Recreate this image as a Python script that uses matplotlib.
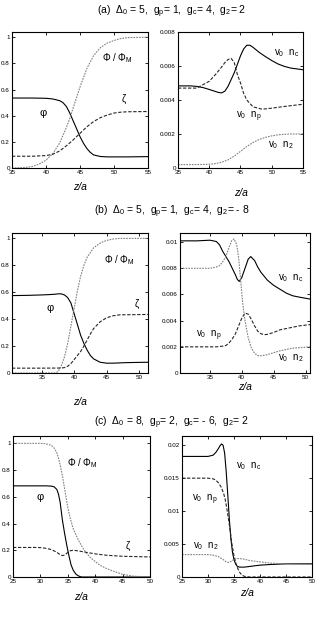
import matplotlib
matplotlib.use('Agg')
import matplotlib.pyplot as plt
from matplotlib.ticker import FuncFormatter

plt.rcParams['font.family'] = ['Liberation Sans', 'DejaVu Sans']
plt.rcParams['mathtext.fontset'] = 'custom'
plt.rcParams['mathtext.rm'] = 'Liberation Sans'
plt.rcParams['mathtext.it'] = 'Liberation Sans:italic'

# ---------- panel (a) ----------
a_phi_x = [35, 38, 40, 41, 42, 42.5, 43, 43.5, 44, 44.5, 45, 45.5, 46, 46.5, 47, 48, 49, 50, 52, 55]
a_phi_y = [0.535, 0.535, 0.533, 0.528, 0.515, 0.50, 0.47, 0.42, 0.36, 0.30, 0.24, 0.19, 0.15, 0.12, 0.10, 0.088, 0.085, 0.085, 0.085, 0.087]
a_Phi_x = [35, 37, 38, 39, 40, 41, 42, 43, 43.5, 44, 44.5, 45, 46, 47, 48, 49, 50, 51, 52, 55]
a_Phi_y = [0, 0.004, 0.012, 0.03, 0.06, 0.11, 0.19, 0.31, 0.38, 0.46, 0.54, 0.62, 0.76, 0.86, 0.92, 0.955, 0.975, 0.99, 0.997, 1.0]
a_zeta_x = [35, 38, 40, 41, 42, 43, 44, 45, 46, 47, 48, 49, 50, 51, 52, 55]
a_zeta_y = [0.09, 0.09, 0.095, 0.105, 0.13, 0.17, 0.215, 0.265, 0.315, 0.355, 0.385, 0.405, 0.42, 0.427, 0.43, 0.432]

a_nc_x = [35, 37, 38, 39, 40, 41, 41.5, 42, 42.5, 43, 43.5, 44, 44.5, 45, 45.5, 46, 46.5, 47, 48, 49, 50, 51, 52, 53, 55]
a_nc_y = [0.00483, 0.00483, 0.0048, 0.00473, 0.00462, 0.0045, 0.00444, 0.00442, 0.00452, 0.0048, 0.0052, 0.0056, 0.0061, 0.0066, 0.0070, 0.00722, 0.00722, 0.0071, 0.0068, 0.00655, 0.00632, 0.00612, 0.00598, 0.00588, 0.00578]
a_np_x = [35, 37, 38, 39, 40, 41, 42, 42.5, 43, 43.5, 44, 44.5, 45, 45.5, 46, 47, 48, 48.5, 49, 50, 52, 55]
a_np_y = [0.0047, 0.0047, 0.0047, 0.0049, 0.0051, 0.0055, 0.00595, 0.0062, 0.00638, 0.00645, 0.0062, 0.0055, 0.0050, 0.0044, 0.0040, 0.0036, 0.0035, 0.00346, 0.00348, 0.00352, 0.00362, 0.00375]
a_n2_x = [35, 38, 40, 41, 42, 43, 44, 45, 46, 47, 48, 49, 50, 51, 52, 53, 55]
a_n2_y = [0.0002, 0.0002, 0.00022, 0.00026, 0.00034, 0.00048, 0.0007, 0.00098, 0.00126, 0.0015, 0.00168, 0.0018, 0.00189, 0.00195, 0.00198, 0.002, 0.002]

# ---------- panel (b) ----------
b_phi_x = [30.4, 33, 35, 36, 37, 37.5, 38, 38.5, 39, 39.5, 40, 40.5, 41, 41.5, 42, 42.5, 43, 44, 45, 46, 48, 51.4]
b_phi_y = [0.575, 0.577, 0.58, 0.582, 0.585, 0.588, 0.588, 0.58, 0.56, 0.52, 0.44, 0.36, 0.28, 0.22, 0.17, 0.13, 0.105, 0.08, 0.073, 0.073, 0.077, 0.08]
b_Phi_x = [30.4, 37, 37.5, 38, 38.5, 39, 39.5, 40, 40.5, 41, 41.5, 42, 43, 44, 45, 46, 47, 48, 51.4]
b_Phi_y = [0, 0, 0.01, 0.05, 0.12, 0.22, 0.35, 0.48, 0.61, 0.72, 0.8, 0.86, 0.93, 0.965, 0.985, 0.995, 1.0, 1.0, 1.0]
b_zeta_x = [30.4, 35, 38, 38.5, 39, 39.5, 40, 40.5, 41, 41.5, 42, 42.5, 43, 44, 45, 46, 47, 51.4]
b_zeta_y = [0.036, 0.036, 0.037, 0.04, 0.05, 0.07, 0.1, 0.13, 0.16, 0.2, 0.245, 0.29, 0.33, 0.38, 0.41, 0.425, 0.432, 0.435]

b_nc_x = [30.3, 33, 35, 36, 36.5, 37, 37.5, 38, 38.5, 39, 39.3, 39.6, 40, 40.5, 41, 41.4, 42, 42.5, 43, 44, 45, 46, 47, 48, 49, 50.7]
b_nc_y = [0.0101, 0.0101, 0.01015, 0.01005, 0.0098, 0.0093, 0.0089, 0.0085, 0.0080, 0.0075, 0.00715, 0.0070, 0.0073, 0.0080, 0.0087, 0.0089, 0.0086, 0.0081, 0.0077, 0.0071, 0.0067, 0.0064, 0.0061, 0.0059, 0.0058, 0.00565]
b_np_x = [30.3, 36, 37, 37.5, 38, 38.5, 39, 39.5, 40, 40.5, 41, 41.5, 42, 42.5, 43, 43.5, 44, 45, 46, 47, 48, 49, 50.7]
b_np_y = [0.002, 0.002, 0.00205, 0.0021, 0.0023, 0.0026, 0.003, 0.0036, 0.0042, 0.00458, 0.0045, 0.0041, 0.0036, 0.0032, 0.003, 0.00293, 0.00295, 0.0031, 0.0033, 0.0034, 0.0035, 0.0036, 0.0037]
b_n2_x = [30.3, 35, 36, 36.5, 37, 37.5, 38, 38.4, 38.8, 39.2, 39.5, 39.8, 40.1, 40.5, 41, 41.5, 42, 42.5, 43, 44, 45, 46, 47, 48, 50.7]
b_n2_y = [0.008, 0.008, 0.0081, 0.0082, 0.0085, 0.0089, 0.0096, 0.0101, 0.01025, 0.0098, 0.0088, 0.0072, 0.0055, 0.0040, 0.0027, 0.0019, 0.0015, 0.00133, 0.00132, 0.0014, 0.00155, 0.0017, 0.0018, 0.0019, 0.002]

# ---------- panel (c) ----------
c_phi_x = [25, 31, 32, 32.5, 33, 33.3, 33.6, 34, 34.4, 34.8, 35.2, 35.6, 36, 36.5, 37, 37.5, 50]
c_phi_y = [0.682, 0.682, 0.68, 0.675, 0.655, 0.62, 0.56, 0.43, 0.33, 0.24, 0.16, 0.09, 0.05, 0.02, 0.007, 0.0, 0.0]
c_Phi_x = [25, 30, 31, 32, 32.5, 33, 33.5, 34, 34.5, 35, 35.5, 36, 37, 38, 39, 40, 41, 42, 43, 45, 47, 50]
c_Phi_y = [1.0, 1.0, 0.997, 0.985, 0.965, 0.93, 0.86, 0.76, 0.64, 0.52, 0.43, 0.36, 0.27, 0.2, 0.15, 0.115, 0.085, 0.065, 0.048, 0.02, 0.006, 0.0]
c_zeta_x = [25, 29, 30, 31, 32, 33, 33.5, 34, 34.5, 35, 35.5, 36, 37, 38, 40, 42, 45, 50]
c_zeta_y = [0.221, 0.221, 0.22, 0.215, 0.205, 0.185, 0.17, 0.16, 0.165, 0.185, 0.197, 0.2, 0.195, 0.187, 0.173, 0.163, 0.155, 0.15]

c_nc_x = [25, 30, 31, 31.5, 32, 32.3, 32.6, 32.9, 33.2, 33.5, 33.8, 34.1, 34.4, 34.7, 35, 35.3, 35.6, 36, 37, 38, 40, 42, 45, 50]
c_nc_y = [0.0183, 0.0183, 0.0185, 0.0189, 0.0195, 0.0199, 0.0202, 0.02, 0.0188, 0.016, 0.0125, 0.0088, 0.0058, 0.0038, 0.0026, 0.002, 0.00165, 0.0015, 0.0015, 0.0016, 0.0018, 0.0019, 0.002, 0.002]
c_np_x = [25, 30, 31, 31.5, 32, 32.5, 33, 33.3, 33.6, 34, 34.3, 34.6, 35, 35.5, 36, 36.5, 37, 38, 50]
c_np_y = [0.015, 0.015, 0.0149, 0.0147, 0.0143, 0.0137, 0.0127, 0.0118, 0.0105, 0.0085, 0.0068, 0.005, 0.0032, 0.0017, 0.0008, 0.0003, 0.0001, 0.0, 0.0]
c_n2_x = [25, 30, 31, 32, 33, 33.5, 34, 34.5, 35, 35.5, 36, 37, 38, 40, 42, 45, 50]
c_n2_y = [0.0034, 0.0034, 0.0033, 0.0031, 0.0026, 0.0023, 0.0022, 0.0024, 0.0027, 0.0028, 0.0028, 0.0027, 0.0025, 0.0023, 0.0021, 0.002, 0.0019]

titles = [r'(a)  $\Delta_0$ = 5,  g$_{\rm p}$= 1,  g$_{\rm c}$= 4,  g$_2$= 2',
          r'(b)  $\Delta_0$ = 5,  g$_{\rm p}$= 1,  g$_{\rm c}$= 4,  g$_2$= - 8',
          r'(c)  $\Delta_0$ = 8,  g$_{\rm p}$= 2,  g$_{\rm c}$= - 6,  g$_2$= 2']
lab_nc = r'v$_0$  n$_{\rm c}$'
lab_np = r'v$_0$  n$_{\rm p}$'
lab_n2 = r'v$_0$  n$_2$'
lab_Phi = r'Φ / Φ$_{\rm M}$'

W, H = 317, 629
fig = plt.figure(figsize=(W / 100, H / 100), dpi=100)


def box(x0, x1, y0, y1):
    # pixel box -> figure fraction
    return [x0 / W, 1 - y1 / H, (x1 - x0) / W, (y1 - y0) / H]


def style(ax, xlim, ylim, xticks, yticks, labcoord):
    ax.set_xlim(xlim)
    ax.set_ylim(ylim)
    ax.set_xticks(xticks)
    ax.set_yticks(yticks)
    ax.xaxis.set_major_formatter(FuncFormatter(lambda v, p: '%g' % v))
    ax.yaxis.set_major_formatter(FuncFormatter(lambda v, p: '%g' % v))
    ax.tick_params(direction='in', top=True, right=True, length=2, width=0.6,
                   labelsize=4.5, pad=1.5)
    for s in ax.spines.values():
        s.set_linewidth(0.8)
    ax.set_xlabel('z/a', fontsize=7.5, style='italic')
    ax.xaxis.set_label_coords(0.5, labcoord)


solid = dict(color='black', lw=0.8)
dashed = dict(color='0.15', lw=0.8, ls=(0, (3, 1.5)))
dotted = dict(color='0.5', lw=0.8, ls=(0, (1.5, 1)))
tfs = 7

# (a)
ax = fig.add_axes(box(12, 148, 32, 168))
ax.plot(a_phi_x, a_phi_y, **solid)
ax.plot(a_Phi_x, a_Phi_y, **dotted)
ax.plot(a_zeta_x, a_zeta_y, **dashed)
style(ax, (35, 55), (0, 1.04), [35, 40, 45, 50, 55], [0, 0.2, 0.4, 0.6, 0.8, 1], -0.10)
ax.text(50.5, 0.84, lab_Phi, fontsize=tfs, ha='center', va='center')
ax.text(51.4, 0.53, 'ζ', fontsize=tfs, ha='center', va='center')
ax.text(39.6, 0.42, 'φ', fontsize=tfs + 1, ha='center', va='center')

ax = fig.add_axes(box(178, 303, 32, 168))
ax.plot(a_nc_x, a_nc_y, **solid)
ax.plot(a_np_x, a_np_y, **dashed)
ax.plot(a_n2_x, a_n2_y, **dotted)
style(ax, (35, 55), (0, 0.008), [35, 40, 45, 50, 55], [0, 0.002, 0.004, 0.006, 0.008], -0.145)
ax.text(52.4, 0.00676, lab_nc, fontsize=tfs, ha='center', va='center')
ax.text(46.4, 0.0030, lab_np, fontsize=tfs, ha='center', va='center')
ax.text(51.4, 0.00134, lab_n2, fontsize=tfs, ha='center', va='center')

# (b)
ax = fig.add_axes(box(12, 148, 233, 373))
ax.plot(b_phi_x, b_phi_y, **solid)
ax.plot(b_Phi_x, b_Phi_y, **dotted)
ax.plot(b_zeta_x, b_zeta_y, **dashed)
style(ax, (30.4, 51.4), (0, 1.04), [35, 40, 45, 50], [0, 0.2, 0.4, 0.6, 0.8, 1], -0.17)
ax.text(47.0, 0.84, lab_Phi, fontsize=tfs, ha='center', va='center')
ax.text(49.7, 0.51, 'ζ', fontsize=tfs, ha='center', va='center')
ax.text(36.3, 0.48, 'φ', fontsize=tfs + 1, ha='center', va='center')

ax = fig.add_axes(box(180, 310, 233, 373))
ax.plot(b_nc_x, b_nc_y, **solid)
ax.plot(b_np_x, b_np_y, **dashed)
ax.plot(b_n2_x, b_n2_y, **dotted)
style(ax, (30.3, 50.7), (0, 0.0107), [35, 40, 45, 50], [0, 0.002, 0.004, 0.006, 0.008, 0.01], -0.064)
ax.text(47.7, 0.00725, lab_nc, fontsize=tfs, ha='center', va='center')
ax.text(34.8, 0.00285, lab_np, fontsize=tfs, ha='center', va='center')
ax.text(47.7, 0.00115, lab_n2, fontsize=tfs, ha='center', va='center')

# (c)
ax = fig.add_axes(box(13, 150, 436, 577))
ax.plot(c_phi_x, c_phi_y, **solid)
ax.plot(c_Phi_x, c_Phi_y, **dotted)
ax.plot(c_zeta_x, c_zeta_y, **dashed)
style(ax, (25, 50), (0, 1.055), [25, 30, 35, 40, 45, 50], [0, 0.2, 0.4, 0.6, 0.8, 1], -0.106)
ax.text(37.6, 0.85, lab_Phi, fontsize=tfs, ha='center', va='center')
ax.text(29.9, 0.6, 'φ', fontsize=tfs + 1, ha='center', va='center')
ax.text(46.0, 0.23, 'ζ', fontsize=tfs, ha='center', va='center')

ax = fig.add_axes(box(182, 312, 436, 577))
ax.plot(c_nc_x, c_nc_y, **solid)
ax.plot(c_np_x, c_np_y, **dashed)
ax.plot(c_n2_x, c_n2_y, **dotted)
style(ax, (25, 50), (0, 0.0214), [25, 30, 35, 40, 45, 50], [0, 0.005, 0.01, 0.015, 0.02], -0.078)
ax.text(37.9, 0.0168, lab_nc, fontsize=tfs, ha='center', va='center')
ax.text(29.3, 0.0117, lab_np, fontsize=tfs, ha='center', va='center')
ax.text(29.6, 0.0047, lab_n2, fontsize=tfs, ha='center', va='center')

for t, yp in zip(titles, [12, 212, 423]):
    fig.text(172 / W, 1 - yp / H, t, fontsize=7.5, ha='center', va='center')

fig.savefig('out.png', dpi=100)
